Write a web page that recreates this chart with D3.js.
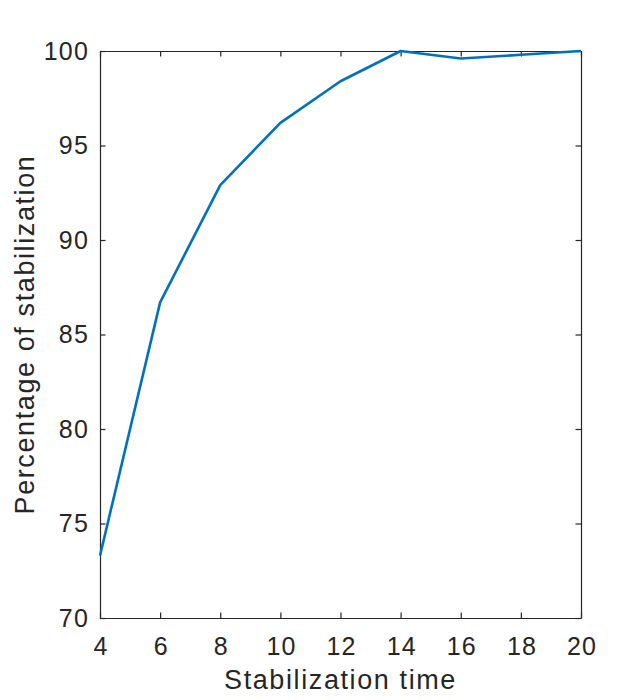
<!DOCTYPE html>
<html>
<head>
<meta charset="utf-8">
<script src="https://cdn.jsdelivr.net/npm/d3@7"></script>
<style>
  body { margin: 0; background: #fff; }
  text { font-family: "Liberation Sans", Arial, sans-serif; fill: #262626; }
</style>
</head>
<body>
<script>
// data
var times = [4, 6, 8, 10, 12, 14, 16, 18, 20];
var percents = [73.3, 86.7, 92.9, 96.2, 98.4, 100, 99.6, 99.8, 100];
var xTicks = [4, 6, 8, 10, 12, 14, 16, 18, 20];
var yTicks = [70, 75, 80, 85, 90, 95, 100];

var margin = {top: 51, right: 61, bottom: 82, left: 100},
    width = 642 - margin.left - margin.right,
    height = 700 - margin.top - margin.bottom;

var x = d3.scaleLinear().domain([4, 20]).range([0, width]);
var y = d3.scaleLinear().domain([70, 100]).range([height, 0]);

var svg = d3.select("body").append("svg")
    .attr("width", 642)
    .attr("height", 700)
  .append("g")
    .attr("transform", "translate(" + margin.left + "," + margin.top + ")");

var tickLen = 5.5;

// bottom and left axes with labels
var xAxis = svg.append("g")
    .attr("transform", "translate(0," + height + ")")
    .call(d3.axisBottom(x).tickValues(xTicks).tickSizeInner(-tickLen).tickSizeOuter(0).tickPadding(19));
var yAxis = svg.append("g")
    .call(d3.axisLeft(y).tickValues(yTicks).tickSizeInner(-tickLen).tickSizeOuter(0).tickPadding(11));

// mirrored ticks on top and right, no labels
var xTop = svg.append("g")
    .call(d3.axisTop(x).tickValues(xTicks).tickSizeInner(-tickLen).tickSizeOuter(0).tickFormat(""));
var yRight = svg.append("g")
    .attr("transform", "translate(" + width + ",0)")
    .call(d3.axisRight(y).tickValues(yTicks).tickSizeInner(-tickLen).tickSizeOuter(0).tickFormat(""));

[xAxis, yAxis, xTop, yRight].forEach(function(a) {
  a.select(".domain").attr("stroke", "#262626").attr("stroke-width", 1.2);
  a.selectAll(".tick line").attr("stroke", "#262626").attr("stroke-width", 1.2);
  a.selectAll(".tick text")
    .attr("font-family", "Liberation Sans, Arial, sans-serif")
    .attr("font-size", 25)
    .attr("letter-spacing", 1.2)
    .attr("fill", "#262626");
});
xAxis.selectAll(".tick text").attr("dy", "0.71em").attr("dx", 0.6);

// the line
var line = d3.line()
    .x(function(d, i) { return x(times[i]); })
    .y(function(d) { return y(d); });

svg.append("path")
    .datum(percents)
    .attr("fill", "none")
    .attr("stroke", "#0072BD")
    .attr("stroke-width", 2.6)
    .attr("stroke-linejoin", "round")
    .attr("d", line);

// axis titles
svg.append("text")
    .attr("x", width / 2)
    .attr("y", 638)
    .attr("text-anchor", "middle")
    .attr("font-size", 27)
    .attr("letter-spacing", 1.6)
    .text("Stabilization time");

svg.append("text")
    .attr("transform", "translate(-66," + height / 2 + ") rotate(-90)")
    .attr("text-anchor", "middle")
    .attr("font-size", 27)
    .attr("letter-spacing", 1.6)
    .text("Percentage of stabilization");
</script>
</body>
</html>
